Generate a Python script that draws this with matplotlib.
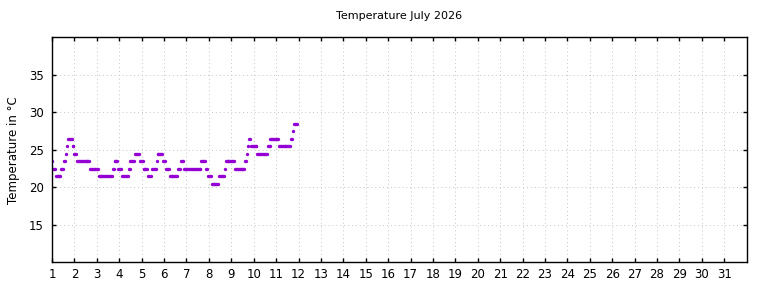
import numpy as np
import matplotlib.pyplot as plt

# hourly readings starting 1 July 00:00, stored as runs of equal value
run_temps = [23.5, 22.5, 21.5, 22.5, 23.5, 24.5, 25.5, 26.5, 25.5, 24.5,
             23.5, 22.5, 21.5, 22.5, 23.5, 22.5, 21.5, 22.5, 23.5, 24.5,
             23.5, 22.5, 21.5, 22.5, 23.5, 24.5, 23.5, 22.5, 21.5, 22.5,
             23.5, 22.5, 23.5, 22.5, 21.5, 20.5, 21.5, 22.5, 23.5, 22.5,
             23.5, 24.5, 25.5, 26.5, 25.5, 24.5, 25.5, 26.5, 25.5, 26.5,
             27.5, 28.5]
run_hours = [1, 3, 6, 3, 2, 1, 1, 5, 2, 3,
             14, 9, 15, 2, 4, 4, 7, 2, 5, 5,
             4, 5, 4, 5, 1, 6, 3, 4, 9, 3,
             3, 19, 5, 2, 4, 8, 6, 1, 10, 11,
             2, 1, 1, 2, 7, 11, 3, 9, 13, 2,
             1, 4]

temps = np.repeat(run_temps, run_hours)
days = 1 + np.arange(len(temps)) / 24.0

day_ticks = list(range(1, 32))
temp_ticks = [15, 20, 25, 30, 35]

fig = plt.figure(figsize=(7.68, 2.88), dpi=100)
ax = fig.add_axes([52 / 768, 1 - 262.3 / 288, (746.7 - 52) / 768, (262.3 - 37.3) / 288])

ax.plot(days, temps, linestyle='none', marker='o', markersize=2.4,
        markeredgewidth=0, color='#9400d3')

ax.set_xlim(1, 32)
ax.set_ylim(10, 40)
ax.set_xticks(day_ticks)
ax.set_yticks(temp_ticks)

ax.grid(True, color='#c4c4c4', linestyle=(0, (1, 3)), linewidth=0.7)
ax.set_axisbelow(True)

ax.tick_params(direction='in', length=3, width=1, top=True, right=True,
               labelsize=8.5, colors='black', pad=4)
ax.tick_params(axis='y', pad=6)
for s in ax.spines.values():
    s.set_linewidth(1)

ax.set_title("Temperature July 2026", fontsize=8, pad=13)
ax.set_ylabel("Temperature in °C", fontsize=8.5, labelpad=6)

fig.savefig("out.png", dpi=100)
